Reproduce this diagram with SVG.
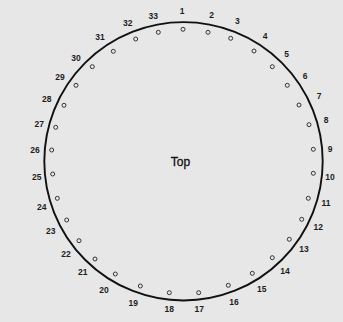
<svg xmlns="http://www.w3.org/2000/svg" width="343" height="322" viewBox="0 0 343 322">
<style>
.bg{fill:#e7e7e7}
.ring{fill:none;stroke:#111;stroke-width:1.9}
.h{fill:none;stroke:#222;stroke-width:0.9}
.n{font-family:"Liberation Sans",Arial,sans-serif;font-size:8.5px;font-weight:bold;fill:#1e1e1e;text-anchor:middle}
.t{font-family:"Liberation Sans",Arial,sans-serif;font-size:12px;fill:#111;stroke:#111;stroke-width:0.3;text-anchor:middle}
</style>
<rect class="bg" x="0" y="0" width="343" height="322"/>
<g id="ring"><circle class="ring" cx="183.5" cy="161.3" r="139.2"/></g>
<g id="title"><text class="t" x="180.5" y="166.3">Top</text></g>
<g id="h1"><circle class="h" cx="183" cy="29.3" r="2"/><text class="n" x="182" y="13.7">1</text></g>
<g id="h2"><circle class="h" cx="208" cy="32.3" r="2"/><text class="n" x="211.7" y="18">2</text></g>
<g id="h3"><circle class="h" cx="230.7" cy="38.3" r="2"/><text class="n" x="237.3" y="24">3</text></g>
<g id="h4"><circle class="h" cx="254" cy="51" r="2"/><text class="n" x="265" y="39">4</text></g>
<g id="h5"><circle class="h" cx="272.3" cy="66.7" r="2"/><text class="n" x="286.7" y="57">5</text></g>
<g id="h6"><circle class="h" cx="287.3" cy="85.3" r="2"/><text class="n" x="305" y="79">6</text></g>
<g id="h7"><circle class="h" cx="299" cy="105" r="2"/><text class="n" x="319" y="99">7</text></g>
<g id="h8"><circle class="h" cx="309" cy="124.7" r="2"/><text class="n" x="326" y="123">8</text></g>
<g id="h9"><circle class="h" cx="313.3" cy="149.3" r="2"/><text class="n" x="330" y="152.3">9</text></g>
<g id="h10"><circle class="h" cx="313.3" cy="173.3" r="2"/><text class="n" x="330" y="179.7">10</text></g>
<g id="h11"><circle class="h" cx="308.3" cy="198.3" r="2"/><text class="n" x="326" y="206.3">11</text></g>
<g id="h12"><circle class="h" cx="301.7" cy="219.3" r="2"/><text class="n" x="318.3" y="229.7">12</text></g>
<g id="h13"><circle class="h" cx="289.3" cy="239.3" r="2"/><text class="n" x="304" y="252.3">13</text></g>
<g id="h14"><circle class="h" cx="272.3" cy="257.7" r="2"/><text class="n" x="285" y="273.7">14</text></g>
<g id="h15"><circle class="h" cx="252.3" cy="273.3" r="2"/><text class="n" x="261.7" y="291.7">15</text></g>
<g id="h16"><circle class="h" cx="228.3" cy="285.3" r="2"/><text class="n" x="234" y="305">16</text></g>
<g id="h17"><circle class="h" cx="198.7" cy="292.7" r="2"/><text class="n" x="199.3" y="312.3">17</text></g>
<g id="h18"><circle class="h" cx="169.3" cy="292.7" r="2"/><text class="n" x="169.3" y="312.3">18</text></g>
<g id="h19"><circle class="h" cx="140.3" cy="286" r="2"/><text class="n" x="133.3" y="306.3">19</text></g>
<g id="h20"><circle class="h" cx="115.3" cy="274" r="2"/><text class="n" x="104" y="293">20</text></g>
<g id="h21"><circle class="h" cx="95" cy="259" r="2"/><text class="n" x="82.7" y="275">21</text></g>
<g id="h22"><circle class="h" cx="79" cy="240.7" r="2"/><text class="n" x="66" y="257.3">22</text></g>
<g id="h23"><circle class="h" cx="66.7" cy="220" r="2"/><text class="n" x="50.7" y="233.7">23</text></g>
<g id="h24"><circle class="h" cx="57.3" cy="198.3" r="2"/><text class="n" x="41.7" y="210">24</text></g>
<g id="h25"><circle class="h" cx="52.7" cy="174" r="2"/><text class="n" x="36.7" y="179.7">25</text></g>
<g id="h26"><circle class="h" cx="51.7" cy="150" r="2"/><text class="n" x="35" y="153">26</text></g>
<g id="h27"><circle class="h" cx="55.7" cy="127.3" r="2"/><text class="n" x="39.3" y="127">27</text></g>
<g id="h28"><circle class="h" cx="64" cy="105.3" r="2"/><text class="n" x="46.7" y="102.3">28</text></g>
<g id="h29"><circle class="h" cx="76" cy="85.3" r="2"/><text class="n" x="60" y="80.3">29</text></g>
<g id="h30"><circle class="h" cx="92.3" cy="66.7" r="2"/><text class="n" x="76" y="60.7">30</text></g>
<g id="h31"><circle class="h" cx="113.3" cy="51.3" r="2"/><text class="n" x="100" y="40.3">31</text></g>
<g id="h32"><circle class="h" cx="135.7" cy="39" r="2"/><text class="n" x="127.7" y="26.3">32</text></g>
<g id="h33"><circle class="h" cx="158.3" cy="32.3" r="2"/><text class="n" x="153.3" y="19">33</text></g>
</svg>
